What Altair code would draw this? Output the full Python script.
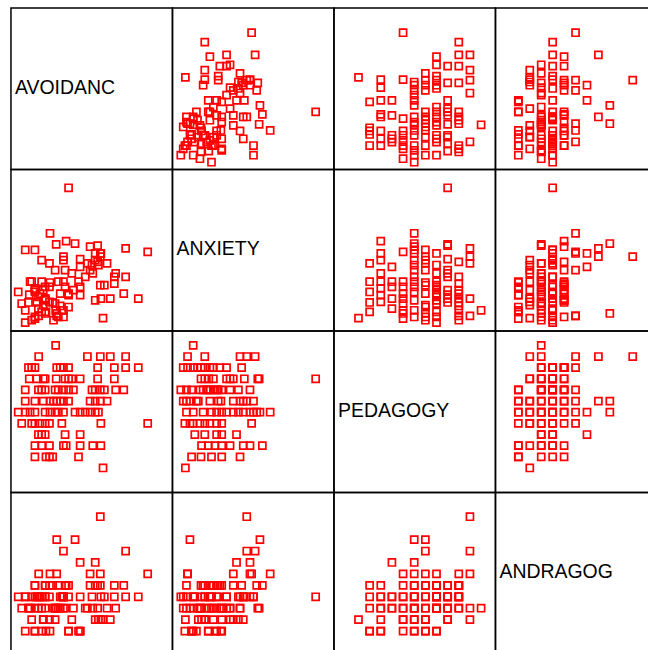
import altair as alt
import pandas as pd

variables = ["AVOIDANC", "ANXIETY", "PEDAGOGY", "ANDRAGOG"]

# Attachment scores (1-7 means) and learning-orientation levels, one entry per respondent
avoidanc = [2.66,
            2.03, 3.84, 4.32, 4.69, 5.26,
            1.65, 1.77, 1.89, 2.70, 2.83, 2.95, 3.14, 4.22, 4.84, 5.26, 5.73,
            1.68, 1.96, 2.20, 2.27, 2.68, 3.01, 3.14, 3.26, 3.57, 4.22, 4.84,
            1.53, 2.02, 2.14, 2.27, 2.64, 2.76, 2.95, 3.14, 3.32, 4.01, 4.13, 4.32, 4.47, 4.89, 5.19,
            1.53, 1.89, 2.20, 2.45, 2.58, 2.70, 2.83, 2.95, 3.14, 3.94, 4.13, 4.32, 4.57,
            1.27, 1.53, 1.71, 1.89, 2.27, 2.45, 2.64, 2.76, 2.95, 3.38, 3.57, 3.76, 3.94, 4.13, 4.25,
            1.40, 1.77, 1.89, 2.08, 2.27, 2.43, 2.89, 4.34, 6.08,
            2.02, 2.14, 2.27, 3.01, 3.57,
            1.89, 2.14, 2.43, 2.95, 3.05, 3.57, 4.04, 4.34,
            1.89, 2.30, 2.43, 2.55, 3.51,
            4.42]

anxiety = [1.77,
           1.56, 3.51, 3.76, 2.20, 4.07,
           2.06, 1.40, 2.52, 1.56, 1.93, 1.77, 2.39, 3.57, 2.76, 3.01, 2.20,
           2.35, 2.06, 2.52, 2.20, 4.22, 3.26, 6.32, 3.14, 3.67, 4.17, 3.01,
           1.31, 2.27, 1.71, 2.64, 2.02, 2.83, 1.52, 2.33, 2.52, 3.45, 2.14, 3.88, 2.70, 3.14, 2.39,
           4.01, 1.52, 1.96, 2.80, 1.40, 1.65, 2.39, 3.76, 1.89, 3.26, 3.63, 2.70, 3.51,
           2.45, 1.77, 2.83, 4.01, 2.14, 4.63, 3.26, 1.52, 3.63, 4.25, 2.64, 3.01, 4.13, 3.88, 3.45,
           2.02, 2.83, 1.46, 2.39, 1.65, 2.64, 1.77, 2.20, 3.94,
           1.83, 2.83, 2.20, 2.64, 3.38,
           2.58, 3.63, 2.08, 2.83, 4.34, 2.33, 3.14, 3.88,
           2.45, 1.71, 3.51, 2.06, 2.83,
           1.48]

pedagogy = [12,
            11, 11, 11, 11, 11,
            10, 10, 10, 10, 10, 10, 10, 10, 10, 10, 10,
            9, 9, 9, 9, 9, 9, 9, 9, 9, 9, 9,
            8, 8, 8, 8, 8, 8, 8, 8, 8, 8, 8, 8, 8, 8, 8,
            7, 7, 7, 7, 7, 7, 7, 7, 7, 7, 7, 7, 7,
            6, 6, 6, 6, 6, 6, 6, 6, 6, 6, 6, 6, 6, 6, 6,
            5, 5, 5, 5, 5, 5, 5, 5, 5,
            4, 4, 4, 4, 4,
            3, 3, 3, 3, 3, 3, 3, 3,
            2, 2, 2, 2, 2,
            1]

andragog = [3,
            6, 3, 11, 2, 8,
            3, 4, 5, 6, 3, 4, 5, 5, 5, 4, 4,
            3, 4, 2, 5, 3, 5, 4, 2, 4, 3, 4,
            4, 3, 1, 4, 3, 5, 4, 1, 3, 4, 5, 6, 4, 3, 5,
            4, 5, 2, 1, 3, 9, 4, 8, 1, 6, 2, 5, 3,
            4, 1, 3, 4, 5, 6, 2, 3, 4, 9, 1, 3, 5, 7, 2,
            3, 2, 1, 4, 3, 5, 4, 2, 6,
            4, 3, 4, 3, 7,
            1, 4, 2, 3, 5, 1, 3, 4,
            3, 1, 4, 5, 1,
            2]

df = pd.DataFrame({
    "AVOIDANC": avoidanc,
    "ANXIETY": anxiety,
    "PEDAGOGY": pedagogy,
    "ANDRAGOG": andragog,
})

# Each variable keeps the same range in its row and in its column
domains = {
    "AVOIDANC": [1.0, 7.0],
    "ANXIETY": [1.0, 7.0],
    "PEDAGOGY": [-1.2, 13.29],
    "ANDRAGOG": [-1.0, 13.12],
}

W = H = 162


def panel(row_var, col_var):
    if row_var == col_var:
        return alt.Chart(pd.DataFrame({"name": [row_var]})).mark_text(
            align="left", baseline="alphabetic", font="Liberation Sans",
            fontSize=19.5, color="black"
        ).encode(
            x=alt.value(4), y=alt.value(86), text="name:N"
        ).properties(width=W, height=H)
    return alt.Chart(df).mark_square(
        filled=False, color="#ff0000", size=50, strokeWidth=1.7, opacity=1
    ).encode(
        x=alt.X(f"{col_var}:Q", axis=None,
                scale=alt.Scale(domain=domains[col_var], nice=False, zero=False)),
        y=alt.Y(f"{row_var}:Q", axis=None,
                scale=alt.Scale(domain=domains[row_var], nice=False, zero=False)),
    ).properties(width=W, height=H)


panels = [panel(r, c) for r in variables for c in variables]

chart = alt.concat(*panels, columns=4, spacing=0, bounds="flush").resolve_scale(
    x="independent", y="independent"
).configure_view(
    stroke="black", strokeWidth=1.5
).properties(
    padding={"left": 10, "top": 6, "right": -10, "bottom": -4},
    background="white",
)

chart.save("out.html", embed_options={"renderer": "svg", "actions": False})
